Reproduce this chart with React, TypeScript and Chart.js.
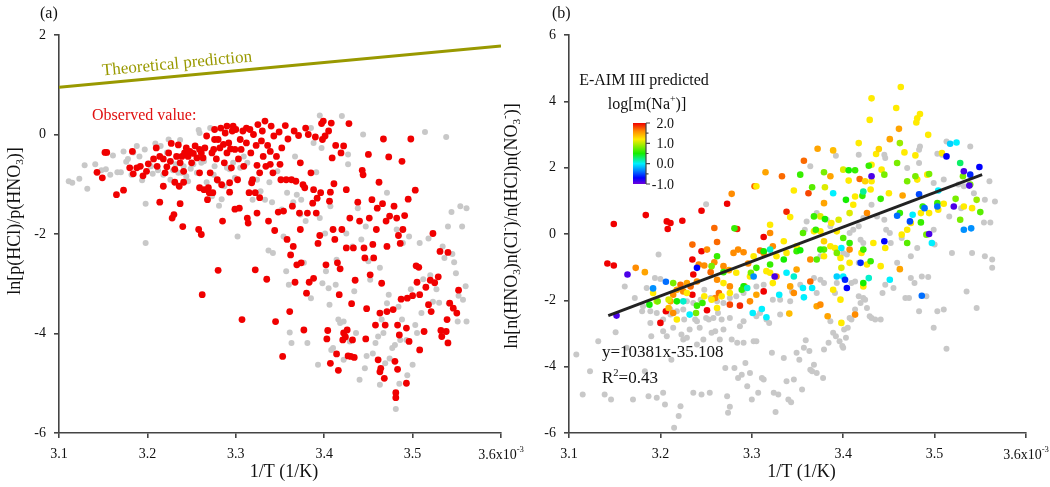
import React, { useEffect, useRef } from "react";
import { Chart, registerables } from "chart.js";
Chart.register(...registerables);

// ---------- data ----------
const xTicks = [3.1, 3.2, 3.3, 3.4, 3.5, 3.6];
const yTicksA = [2, 0, -2, -4, -6];
const yTicksB = [6, 4, 2, 0, -2, -4, -6];
const colourbarTicks = [2.0, 1.0, 0.0, -1.0];
const colourbarMinor = [1.5, 0.5, -0.5];
const theoryLine = [[3.1, 0.95], [3.6, 1.78]];
const fitLine = [[3.143, -2.46], [3.552, 1.79]];

const redA = [
  [3.143,-0.76],[3.149,-0.87],[3.152,-0.36],[3.154,-0.36],[3.165,-1.21],[3.173,-1.12],[3.18,-0.67],[3.183,-0.34],
  [3.184,-0.79],[3.188,-0.67],[3.192,-0.64],[3.195,-0.83],[3.199,-0.74],[3.201,-0.59],[3.207,-0.49],[3.21,-0.27],
  [3.211,-0.64],[3.214,-0.44],[3.214,-1.36],[3.218,-0.49],[3.218,-1.04],[3.22,-0.77],[3.222,-0.65],[3.224,-0.37],
  [3.226,-0.54],[3.227,-0.18],[3.228,-1.68],[3.23,-1.61],[3.231,-0.96],[3.231,-0.7],[3.233,-0.44],[3.235,-0.21],
  [3.236,-1.04],[3.237,-1.39],[3.237,-0.57],[3.239,-0.44],[3.24,-1.85],[3.241,-0.96],[3.241,-0.74],[3.242,-0.37],
  [3.244,-0.27],[3.246,-0.44],[3.248,-0.34],[3.25,-0.57],[3.252,-0.38],[3.254,-0.23],[3.256,-0.47],[3.258,-1.91],
  [3.259,-0.3],[3.259,-0.77],[3.259,-1.07],[3.261,-0.37],[3.261,-2.01],[3.262,-3.22],[3.263,-0.47],[3.264,-1.11],
  [3.265,-0.27],[3.267,-0.03],[3.268,-1.31],[3.269,-1.07],[3.27,-1.17],[3.271,-0.77],[3.273,-0.37],[3.274,-1.17],
  [3.275,-0.3],[3.276,0.1],[3.276,-0.1],[3.278,-0.49],[3.279,-0.91],[3.28,-0.1],[3.28,-2.73],[3.282,-0.27],
  [3.283,0.13],[3.284,-1.01],[3.285,-1.74],[3.286,-0.2],[3.287,-0.57],[3.288,0.03],[3.29,0.17],[3.29,-0.37],
  [3.292,-0.17],[3.293,-0.97],[3.293,-1.16],[3.294,-0.29],[3.295,-0.67],[3.296,0.07],[3.297,0.17],[3.299,-1.5],
  [3.299,-0.3],[3.3,0.1],[3.302,-0.91],[3.303,-0.49],[3.304,-1.48],[3.305,-0.1],[3.306,-0.3],[3.307,-3.72],
  [3.308,0.07],[3.309,-0.64],[3.312,0.13],[3.312,-0.17],[3.313,-1.68],[3.314,-1.78],[3.315,-1.17],[3.316,0.1],
  [3.317,-0.37],[3.318,-0.97],[3.319,-0.91],[3.32,0.0],[3.322,-2.72],[3.322,-1.17],[3.323,-0.22],[3.324,-1.58],
  [3.324,-0.62],[3.325,0.2],[3.327,-0.77],[3.327,-1.27],[3.329,-0.13],[3.33,0.07],[3.331,-0.44],[3.333,0.27],
  [3.334,-0.64],[3.335,-2.91],[3.336,-0.22],[3.337,-1.74],[3.339,-0.34],[3.339,-0.6],[3.34,0.17],[3.342,-0.77],
  [3.343,-0.03],[3.344,-1.93],[3.345,-3.76],[3.346,-0.44],[3.348,-1.56],[3.349,0.05],[3.35,-0.6],[3.351,-0.91],
  [3.352,-0.27],[3.353,-4.46],[3.354,-1.54],[3.356,0.18],[3.357,-0.91],[3.358,-2.11],[3.359,-0.09],[3.361,-3.56],
  [3.362,-2.42],[3.363,-0.91],[3.364,-1.44],[3.365,-2.25],[3.366,0.07],[3.367,-2.97],[3.368,-0.94],[3.369,-2.62],
  [3.371,-0.02],[3.372,-1.58],[3.373,-0.57],[3.373,-1.91],[3.374,-2.58],[3.376,-1.01],[3.377,-3.93],[3.378,-1.07],
  [3.379,0.13],[3.38,-3.19],[3.381,-1.58],[3.382,0.0],[3.383,-2.97],[3.385,-0.77],[3.387,-1.38],[3.388,-1.11],
  [3.388,-2.89],[3.39,-0.05],[3.391,-1.58],[3.392,-1.28],[3.393,-2.19],[3.395,-2.03],[3.396,-1.17],[3.397,0.22],
  [3.398,-0.1],[3.399,0.27],[3.401,-0.03],[3.402,-2.62],[3.403,-4.11],[3.404,-3.94],[3.405,0.07],[3.406,-1.34],
  [3.407,-4.6],[3.407,-1.16],[3.408,0.23],[3.409,-0.47],[3.41,-1.91],[3.411,-0.99],[3.412,-2.11],[3.413,-0.22],
  [3.414,-4.41],[3.415,-2.58],[3.416,-4.74],[3.417,-3.22],[3.418,-2.7],[3.419,-0.37],[3.42,-1.91],[3.421,-4.13],
  [3.422,-3.99],[3.422,-0.23],[3.424,-4.07],[3.425,-1.11],[3.425,-2.28],[3.426,-3.93],[3.427,-4.45],[3.428,0.22],
  [3.429,-1.68],[3.43,-4.46],[3.431,-3.4],[3.432,-4.13],[3.433,-2.28],[3.434,-4.48],[3.435,-2.93],[3.438,-1.36],
  [3.44,-1.74],[3.443,-0.72],[3.444,-0.81],[3.445,-2.28],[3.446,-2.48],[3.447,-4.11],[3.448,-3.5],[3.45,-0.4],
  [3.451,-1.68],[3.452,-2.82],[3.454,-1.31],[3.455,-2.21],[3.456,-2.48],[3.458,-3.83],[3.459,-1.91],[3.46,-1.48],
  [3.461,-4.53],[3.462,-0.96],[3.463,-4.77],[3.463,-3.59],[3.464,-4.7],[3.465,-2.99],[3.466,-1.39],[3.467,-0.09],
  [3.468,-4.9],[3.469,-3.83],[3.47,-1.74],[3.471,-3.56],[3.471,-2.25],[3.473,-0.45],[3.474,-1.64],[3.478,-3.52],
  [3.479,-1.44],[3.48,-4.56],[3.481,-5.19],[3.481,-5.29],[3.482,-1.68],[3.483,-3.83],[3.483,-4.72],[3.484,-2.03],
  [3.485,-4.03],[3.486,-2.19],[3.487,-3.31],[3.488,-0.54],[3.489,-1.91],[3.491,-1.63],[3.493,-3.89],[3.493,-5.0],
  [3.494,-3.29],[3.495,-1.3],[3.496,-4.16],[3.498,-0.09],[3.5,-3.24],[3.503,-1.12],[3.504,-2.64],[3.505,-2.97],
  [3.507,-2.67],[3.508,-3.22],[3.508,-4.33],[3.513,-3.96],[3.515,-3.07],[3.518,-3.42],[3.52,-2.93],[3.521,-3.56],
  [3.523,-1.99],[3.525,-2.98],[3.529,-2.86],[3.531,-2.35],[3.532,-3.94],[3.533,-4.06],[3.538,-3.96],[3.539,-3.72],
  [3.54,-2.37],[3.54,-4.19],[3.542,-3.39],[3.546,-3.49],[3.55,-3.59],[3.552,-3.13]
];

const greyA = [
  [3.111,-0.94],[3.115,-0.97],[3.123,-0.89],[3.129,-0.62],[3.132,-1.09],[3.141,-0.6],[3.148,-0.72],[3.153,-0.7],
  [3.158,-0.81],[3.161,-0.42],[3.166,-0.76],[3.17,-0.76],[3.173,-0.34],[3.176,-0.55],[3.178,-0.49],[3.182,-0.81],
  [3.184,-0.36],[3.188,-0.23],[3.191,-0.44],[3.194,-0.92],[3.197,-0.3],[3.198,-1.39],[3.198,-2.18],[3.204,-0.64],
  [3.206,-0.79],[3.209,-0.18],[3.212,-0.72],[3.215,-0.23],[3.218,-0.81],[3.222,-0.36],[3.224,-0.1],[3.226,-0.91],
  [3.229,-0.72],[3.232,-0.6],[3.235,-0.77],[3.237,-0.11],[3.239,-0.77],[3.241,-0.64],[3.244,-0.84],[3.246,-0.94],
  [3.249,-0.69],[3.252,-0.6],[3.256,-0.77],[3.258,0.09],[3.259,0.03],[3.261,-0.57],[3.264,-0.54],[3.267,-0.96],
  [3.271,0.13],[3.273,-1.24],[3.275,-0.81],[3.276,-0.64],[3.28,-0.94],[3.281,-1.43],[3.284,-1.3],[3.287,-1.04],
  [3.29,-0.67],[3.293,-0.7],[3.297,-0.57],[3.299,-0.87],[3.302,-2.05],[3.305,-0.67],[3.309,-0.44],[3.313,-0.57],
  [3.317,-0.97],[3.319,-1.31],[3.324,-0.91],[3.328,-1.14],[3.333,-1.31],[3.338,-0.96],[3.341,-1.36],[3.337,-2.33],
  [3.342,-2.38],[3.347,-0.74],[3.352,-1.51],[3.354,-2.05],[3.357,-2.75],[3.358,-1.17],[3.36,-3.02],[3.361,-3.98],
  [3.363,-4.19],[3.365,-1.36],[3.367,-0.44],[3.369,-1.21],[3.373,-1.61],[3.374,-1.31],[3.377,-2.58],[3.379,-1.74],
  [3.381,-4.19],[3.385,-3.29],[3.385,0.13],[3.388,-0.17],[3.391,-0.76],[3.393,-4.63],[3.395,-1.68],[3.395,0.38],
  [3.397,-0.27],[3.398,-2.99],[3.401,-1.99],[3.402,-2.75],[3.405,-3.09],[3.406,-3.42],[3.407,-1.44],[3.408,-4.33],
  [3.41,-4.29],[3.413,-3.02],[3.414,-2.52],[3.416,-3.72],[3.418,-3.79],[3.42,0.37],[3.422,-4.53],[3.422,-3.76],
  [3.425,-1.99],[3.427,-0.4],[3.427,-0.6],[3.429,-4.16],[3.432,-2.25],[3.434,-3.15],[3.436,-3.99],[3.438,-1.48],
  [3.44,-4.93],[3.442,-2.11],[3.444,0.0],[3.446,-4.7],[3.447,-1.85],[3.448,-4.45],[3.45,-2.55],[3.452,-2.92],
  [3.455,-4.4],[3.458,-4.19],[3.461,-4.06],[3.463,-5.03],[3.463,-2.68],[3.465,-3.72],[3.467,-3.99],[3.469,-4.6],
  [3.471,-1.17],[3.471,-3.39],[3.473,-3.22],[3.474,-4.5],[3.477,-4.29],[3.48,-4.23],[3.481,-5.52],[3.482,-1.91],
  [3.484,-3.46],[3.485,-5.01],[3.486,-4.13],[3.488,-3.72],[3.489,-2.18],[3.493,-4.13],[3.494,-4.84],[3.496,-2.05],
  [3.498,-3.11],[3.5,-4.63],[3.503,-3.83],[3.505,-3.99],[3.508,-2.18],[3.51,-3.59],[3.512,-2.91],[3.514,0.05],
  [3.518,-2.09],[3.52,-2.83],[3.523,-3.36],[3.527,-3.11],[3.53,-3.38],[3.534,-2.25],[3.536,-2.48],[3.538,-0.05],
  [3.54,-1.85],[3.541,-3.39],[3.544,-1.56],[3.545,-2.4],[3.547,-2.57],[3.549,-2.79],[3.552,-3.24],[3.551,-3.76],
  [3.554,-1.44],[3.556,-1.85],[3.557,-3.32],[3.56,-3.05],[3.561,-3.76],[3.561,-1.48]
];

// [1/T (x10^-3), ln ratio, E-AIM log m(Na+)]
const colouredB = [
  [3.142,-0.89,2.0],[3.149,-0.95,2.0],[3.149,0.3,2.0],[3.184,0.57,2.0],[3.207,0.38,2.0],[3.208,0.15,2.0],[3.211,0.33,2.0],
  [3.224,0.4,2.0],[3.245,0.7,2.0],[3.273,0.91,2.0],[3.284,0.15,1.9],[3.313,-0.09,2.0],[3.338,0.67,1.9],[3.362,1.23,1.8],
  [3.235,-0.77,2.0],[3.236,-1.22,2.0],[3.245,-0.52,2.0],[3.206,-2.33,2.0],[3.2,-2.68,2.0],[3.235,-1.83,2.0],[3.251,-2.3,2.0],
  [3.313,-1.73,2.0],[3.287,-2.16,1.9],[3.276,-2.13,1.8],
  [3.173,-1.02,1.6],[3.183,-1.15,1.5],[3.235,-0.32,1.7],[3.259,0.18,1.7],[3.262,-0.24,1.7],[3.278,1.21,1.6],[3.303,1.44,1.7],
  [3.315,1.86,1.5],[3.333,1.74,1.7],[3.357,2.21,1.7],[3.372,2.57,1.5],[3.389,2.52,1.4],[3.386,1.74,1.5],[3.379,0.93,1.5],
  [3.451,2.86,1.5],[3.461,3.17,1.5],[3.418,1.66,1.7],[3.413,-2.43,1.6],[3.407,-0.47,1.6],[3.426,0.63,1.6],[3.462,-1.06,1.5],
  [3.465,1.16,1.5],[3.323,-0.37,1.6],[3.32,0.03,1.6],[3.313,-0.57,1.6],[3.309,-0.5,1.7],[3.296,-0.89,1.6],[3.291,-0.55,1.6],
  [3.285,-0.47,1.6],[3.28,-0.57,1.6],[3.275,-1.09,1.5],[3.269,-0.97,1.6],[3.262,-1.38,1.6],[3.259,-0.85,1.6],[3.255,-1.15,1.7],
  [3.251,-0.47,1.6],[3.248,-0.95,1.6],[3.242,-0.92,1.6],[3.24,-1.43,1.6],[3.233,-1.58,1.7],[3.229,-1.48,1.5],[3.225,-1.73,1.6],
  [3.222,-1.53,1.7],[3.218,-1.68,1.5],[3.214,-1.83,1.6],[3.211,-2.03,1.5],[3.209,-2.23,1.4],[3.214,-2.38,1.6],[3.26,-1.93,1.6],
  [3.264,-1.78,1.7],[3.276,-1.58,1.6],[3.292,-1.58,1.5],[3.298,-2.03,1.6],[3.305,-1.83,1.5],[3.327,-1.28,1.6],[3.342,-1.58,1.5],
  [3.346,-1.78,1.6],[3.349,-1.07,1.5],[3.364,-1.43,1.7],[3.371,-2.18,1.5],[3.375,-2.13,1.6],[3.364,-0.77,1.6],[3.341,-2.4,1.4],
  [3.383,-2.48,1.5],
  [3.305,1.44,1.2],[3.346,1.31,1.2],[3.32,0.28,1.2],[3.342,0.51,1.2],[3.38,1.41,1.1],[3.417,2.74,1.2],[3.429,3.44,1.2],
  [3.431,4.09,1.2],[3.458,3.8,1.2],[3.463,4.43,1.2],[3.481,3.49,1.2],[3.484,3.62,1.2],[3.48,3.36,1.2],[3.493,2.99,1.2],
  [3.479,2.37,1.2],[3.436,2.41,1.2],[3.439,2.56,1.3],[3.442,1.94,1.2],[3.467,2.46,1.2],[3.508,2.44,1.2],[3.43,1.34,1.2],
  [3.431,1.59,1.2],[3.424,1.59,1.3],[3.406,1.61,1.2],[3.4,1.94,1.1],[3.393,0.08,1.2],[3.395,0.43,1.1],[3.387,0.33,1.2],
  [3.375,0.53,1.1],[3.375,0.08,1.2],[3.368,0.08,1.2],[3.379,-0.22,1.3],[3.386,-0.37,1.2],[3.391,-0.42,1.2],[3.397,-0.72,1.2],
  [3.398,-1.02,1.1],[3.407,-0.87,1.2],[3.42,-0.57,1.2],[3.426,-0.92,1.2],[3.433,-0.27,1.2],[3.441,-0.97,1.2],[3.446,-0.42,1.2],
  [3.464,-0.02,1.2],[3.47,0.13,1.2],[3.474,0.33,1.2],[3.485,0.63,1.2],[3.494,0.63,1.2],[3.504,0.73,1.2],[3.51,0.91,1.2],
  [3.532,0.83,1.2],[3.541,0.78,1.2],[3.492,1.79,1.2],[3.481,1.64,1.2],[3.431,2.09,1.2],[3.45,1.23,1.2],[3.413,1.13,1.2],
  [3.411,0.88,1.2],[3.397,-1.98,1.2],[3.398,-2.68,1.2],[3.389,-1.68,1.2],[3.379,-0.67,1.2],[3.349,-0.37,1.2],[3.338,-0.57,1.2],
  [3.335,-0.22,1.2],[3.327,-0.67,1.2],[3.32,-1.17,1.2],[3.323,-1.48,1.2],[3.316,-1.12,1.2],[3.298,-1.28,1.2],[3.283,-1.17,1.2],
  [3.276,-1.78,1.2],[3.269,-1.48,1.2],[3.267,-1.88,1.2],[3.262,-2.23,1.2],[3.256,-1.98,1.2],[3.248,-1.88,1.2],[3.229,-1.78,1.2],
  [3.218,-2.58,1.2],[3.209,-1.98,1.1],[3.196,-2.03,1.1],[3.192,-1.78,1.2],[3.302,-0.67,1.2],[3.422,-1.58,1.2],[3.407,0.63,1.1],
  [3.353,1.79,0.6],[3.366,1.41,0.7],[3.368,0.53,0.6],[3.38,0.45,0.5],[3.379,1.86,0.8],[3.406,1.92,0.5],[3.413,1.92,0.6],
  [3.403,1.03,0.5],[3.421,1.15,0.6],[3.428,2.06,0.6],[3.441,1.06,0.6],[3.445,1.79,0.8],[3.459,2.14,0.8],[3.462,2.74,0.9],
  [3.47,1.59,0.8],[3.479,1.74,0.8],[3.494,1.81,0.8],[3.487,0.83,0.6],[3.485,0.35,0.6],[3.491,-0.02,0.8],[3.47,-0.27,0.7],
  [3.462,0.63,0.6],[3.523,1.06,0.8],[3.528,0.43,0.8],[3.531,1.74,0.8],[3.539,1.49,0.8],[3.546,1.03,0.9],[3.55,0.66,0.7],
  [3.503,0.93,0.6],[3.422,-0.47,0.6],[3.43,-0.82,0.6],[3.422,-1.48,0.5],[3.407,-0.27,0.6],[3.4,-0.12,0.7],[3.393,-0.57,0.8],
  [3.379,-0.47,0.7],[3.37,0.13,0.6],[3.356,0.03,0.7],[3.349,-0.52,0.6],[3.353,-0.49,0.5],[3.335,-0.77,0.5],[3.32,-0.92,0.6],
  [3.313,-0.52,0.5],[3.305,-1.02,0.6],[3.299,-1.17,0.8],[3.291,-1.58,0.5],[3.289,-1.68,0.6],[3.269,-1.15,0.6],[3.262,-0.67,0.6],
  [3.256,-0.97,0.8],[3.246,-2.08,0.6],[3.24,-2.16,0.6],[3.218,-2.03,0.5],[3.214,-1.48,0.8],[3.197,-2.03,0.8],[3.188,-2.13,0.5],
  [3.239,-2.38,0.8],[3.281,0.17,0.6],[3.371,-0.77,0.7],[3.375,-0.47,0.6],
  [3.389,1.23,0.0],[3.422,1.28,0.2],[3.476,0.58,0.0],[3.504,1.31,0.0],[3.524,2.76,0.0],[3.517,2.72,-0.1],[3.528,2.14,0.3],
  [3.497,-0.27,0.0],[3.451,-1.38,0.0],[3.428,-1.33,0.1],[3.398,-0.42,0.0],[3.4,-1.28,0.0],[3.393,-1.28,-0.1],[3.356,-1.63,0.0],
  [3.366,-1.63,0.0],[3.357,-1.91,0.0],[3.346,-1.28,0.1],[3.338,-1.17,0.0],[3.33,-1.83,0.0],[3.32,-0.47,0.1],[3.311,-2.26,0.0],
  [3.301,-2.38,0.0],[3.316,-2.51,0.0],[3.225,-2.03,0.1],[3.232,-2.43,0.0],[3.295,-1.63,0.1],[3.532,0.13,-0.3],[3.54,0.17,-0.3],
  [3.513,2.34,-0.7],[3.549,2.02,-0.7],[3.539,1.79,-0.6],[3.483,1.2,-0.5],[3.489,0.78,-0.4],[3.459,0.55,-0.4],[3.503,0.83,-0.4],
  [3.445,-0.22,-0.7],[3.419,-0.87,-0.6],[3.402,-1.38,-0.6],[3.404,-1.63,-0.7],[3.486,-1.86,-0.4],[3.473,0.38,-0.5],[3.24,-1.02,-0.7],
  [3.206,-1.44,-0.4],[3.192,-1.64,-0.3],[3.302,-1.28,-0.3],
  [3.164,-1.22,-0.9],[3.152,-2.46,-0.9],[3.325,-1.28,-0.9],[3.431,1.74,-0.9],[3.494,0.0,-0.9],[3.521,0.83,-0.9],[3.532,1.89,-0.9],
  [3.538,1.46,-0.9]
];

const greyB = [
  [3.108,-3.63],[3.115,-4.84],[3.123,-4.14],[3.132,-3.23],[3.139,-4.84],[3.146,-4.99],[3.151,-2.96],[3.161,-1.58],
  [3.163,-3.43],[3.17,-4.99],[3.172,-1.93],[3.18,-2.33],[3.183,-4.14],[3.185,-1.63],[3.187,-4.89],[3.189,-2.68],
  [3.19,-3.08],[3.194,-1.33],[3.196,-4.94],[3.198,-0.62],[3.2,-1.36],[3.203,-4.79],[3.203,-2.93],[3.205,-5.14],
  [3.207,-3.08],[3.211,-2.28],[3.212,-3.79],[3.214,-2.83],[3.22,-5.49],[3.222,-5.19],[3.215,-5.84],[3.223,-3.03],
  [3.225,-3.18],[3.226,-2.58],[3.229,-3.13],[3.232,-2.88],[3.236,-4.79],[3.238,-2.58],[3.24,-3.33],[3.243,-2.83],
  [3.245,-4.84],[3.247,-3.18],[3.25,0.9],[3.253,-2.58],[3.254,-4.79],[3.256,-2.98],[3.258,-2.53],[3.26,-2.93],
  [3.263,-2.38],[3.265,-3.18],[3.267,-2.58],[3.269,-2.88],[3.271,-4.04],[3.273,-4.89],[3.274,-5.39],[3.276,-5.21],
  [3.278,-3.18],[3.281,-4.04],[3.284,-3.28],[3.285,-4.34],[3.287,-2.78],[3.289,-4.24],[3.291,-3.28],[3.293,-3.89],
  [3.295,-4.59],[3.298,-4.19],[3.3,-4.99],[3.302,-3.23],[3.305,-3.23],[3.307,-4.79],[3.309,-2.38],[3.311,-4.34],
  [3.313,-4.39],[3.316,-2.58],[3.319,-2.68],[3.322,-3.58],[3.324,-4.79],[3.326,-5.37],[3.329,-4.84],[3.331,-2.43],
  [3.335,-3.74],[3.338,-4.44],[3.34,-4.99],[3.343,-5.07],[3.346,-4.39],[3.349,-3.58],[3.352,-3.79],[3.355,-4.69],
  [3.357,-3.43],[3.359,-3.2],[3.363,-3.53],[3.364,-4.09],[3.366,-4.14],[3.368,-3.94],[3.371,-4.19],[3.378,-4.34],
  [3.379,-3.48],[3.384,-3.28],[3.386,-2.63],[3.389,-2.98],[3.392,-3.08],[3.396,-3.23],[3.399,-3.38],[3.4,-3.43],
  [3.401,-2.88],[3.403,-3.13],[3.405,-2.83],[3.407,-2.53],[3.409,-2.58],[3.413,-2.28],[3.417,-1.88],[3.419,-2.08],
  [3.422,-1.93],[3.424,-1.98],[3.426,-2.23],[3.429,-2.48],[3.431,-2.53],[3.435,-2.58],[3.441,-2.58],[3.443,-1.78],
  [3.446,-1.53],[3.455,-1.63],[3.459,-0.87],[3.468,-1.93],[3.472,-1.93],[3.474,-1.33],[3.478,-1.48],[3.483,-2.33],
  [3.486,-1.28],[3.491,-1.88],[3.493,-1.3],[3.499,-2.83],[3.503,-2.33],[3.51,-2.28],[3.513,-3.46],[3.519,-0.57],
  [3.535,-1.73],[3.541,-0.57],[3.546,-2.23],[3.555,-0.67],[3.563,-1.02],[3.563,-0.77],[3.554,0.35],[3.561,0.35],
  [3.56,1.59],[3.566,0.98],[3.555,1.03],[3.539,2.64],[3.513,2.79],[3.508,2.39],[3.503,2.42],[3.483,2.54],
  [3.483,2.14],[3.47,1.99],[3.446,2.29],[3.445,2.39],[3.417,2.39],[3.392,2.36],[3.364,2.04],[3.484,2.64],
  [3.487,0.83],[3.51,1.64],[3.499,1.54],[3.526,1.49],[3.532,1.44],[3.543,1.23],[3.529,0.78],[3.516,0.53],
  [3.499,0.13],[3.5,-0.32],[3.481,-0.42],[3.474,-0.67],[3.464,-0.12],[3.452,-0.27],[3.451,0.03],[3.447,0.13],
  [3.445,0.43],[3.437,0.53],[3.431,0.88],[3.422,0.48],[3.417,0.23],[3.411,0.13],[3.419,-0.17],[3.422,-0.27],
  [3.407,0.03],[3.4,-0.57],[3.404,-0.62],[3.413,-1.43],[3.417,-0.87],[3.409,-1.48],[3.393,-1.48],[3.391,-1.78],
  [3.386,0.23],[3.382,0.43],[3.371,0.63],[3.36,0.38],[3.358,0.13],[3.375,-0.67],[3.375,-1.38],[3.379,-1.48],
  [3.368,-1.33],[3.353,-1.53],[3.371,-1.78],[3.344,-1.73],[3.331,-1.98],[3.342,-2.03],[3.323,-1.98],[3.313,-1.53],
  [3.305,-1.58],[3.291,-1.78],[3.283,-1.88],[3.276,-1.93],[3.269,-2.08],[3.262,-2.03],[3.255,-1.93],[3.248,-1.68],
  [3.244,-1.98],[3.236,-2.08],[3.229,-2.03],[3.225,-2.28],[3.218,-2.33],[3.211,-2.43],[3.203,-2.58],[3.196,-2.38],
  [3.189,-2.33],[3.181,-2.18],[3.24,-2.63],[3.25,-2.53],[3.276,-2.53],[3.291,-2.63],[3.305,-2.48]
];

// ---------- styling helpers ----------
const FONT = "'Liberation Serif', 'Times New Roman', serif";
const AXIS = "#444";
const TXT = "#111";

const cmapStops: [number, number[]][] = [
  [-1.0, [112, 0, 220]], [-0.7, [0, 0, 255]], [-0.35, [0, 128, 255]], [0.0, [0, 240, 255]],
  [0.5, [20, 238, 0]], [1.2, [255, 235, 0]], [1.6, [255, 140, 0]], [2.0, [240, 0, 0]]
];
function cmap(v: number): string {
  if (v <= cmapStops[0][0]) return `rgb(${cmapStops[0][1].join(",")})`;
  for (let i = 1; i < cmapStops.length; i++) {
    const [v1, c1] = cmapStops[i];
    const [v0, c0] = cmapStops[i - 1];
    if (v <= v1) {
      const t = (v - v0) / (v1 - v0);
      const c = c0.map((a, k) => Math.round(a + (c1[k] - a) * t));
      return `rgb(${c.join(",")})`;
    }
  }
  return `rgb(${cmapStops[cmapStops.length - 1][1].join(",")})`;
}

type Seg = [string, number]; // 0 normal, 1 superscript, -1 subscript
function drawRich(ctx: CanvasRenderingContext2D, segs: Seg[], x: number, y: number, size: number,
  color: string, rot = 0, align: "center" | "left" | "right" = "center") {
  ctx.save();
  ctx.translate(x, y);
  ctx.rotate(rot);
  ctx.fillStyle = color;
  ctx.textBaseline = "middle";
  ctx.textAlign = "left";
  const fs = (m: number) => (m ? size * 0.62 : size);
  const widths = segs.map(([t, m]) => { ctx.font = `${fs(m)}px ${FONT}`; return ctx.measureText(t).width; });
  const total = widths.reduce((a, b) => a + b, 0);
  let cx = align === "center" ? -total / 2 : align === "right" ? -total : 0;
  segs.forEach(([t, m], i) => {
    ctx.font = `${fs(m)}px ${FONT}`;
    ctx.fillText(t, cx, m === 1 ? -size * 0.36 : m === -1 ? size * 0.3 : 0);
    cx += widths[i];
  });
  ctx.restore();
}

function scales(yTicks: number[], yMin: number, yMax: number, yWidth: number) {
  const grid = { drawOnChartArea: false, drawTicks: true, tickLength: 5, color: AXIS, lineWidth: 1.6 };
  const border = { display: true, color: AXIS, width: 1.6 };
  return {
    x: {
      type: "linear", min: 3.1, max: 3.6,
      afterBuildTicks: (s: any) => { s.ticks = xTicks.map((v) => ({ value: v })); },
      afterFit: (s: any) => { s.height = 54; },
      ticks: {
        autoSkip: false, maxRotation: 0, padding: 8, color: TXT,
        font: { family: FONT, size: 14 },
        callback: (v: any) => (Number(v) === 3.6 ? "" : Number(v).toFixed(1)),
      },
      grid, border,
    },
    y: {
      type: "linear", min: yMin, max: yMax,
      afterBuildTicks: (s: any) => { s.ticks = yTicks.map((v) => ({ value: v })); },
      afterFit: (s: any) => { s.width = yWidth; },
      ticks: { autoSkip: false, padding: 8, color: TXT, font: { family: FONT, size: 14 }, callback: (v: any) => String(v) },
      grid, border,
    },
  };
}

const pts = (a: number[][]) => a.map((p) => ({ x: p[0], y: p[1] }));

export default function App() {
  const refA = useRef<HTMLCanvasElement>(null);
  const refB = useRef<HTMLCanvasElement>(null);

  useEffect(() => {
    const exp36 = (chart: any) => {
      const ctx = chart.ctx as CanvasRenderingContext2D;
      const xp = chart.scales.x.getPixelForValue(3.6);
      drawRich(ctx, [["3.6x10", 0], ["-3", 1]], xp, 455, 14, TXT);
      drawRich(ctx, [["1/T (1/K)", 0]], (chart.chartArea.left + chart.chartArea.right) / 2 + 4, 472, 18, TXT);
    };

    const chartA = new Chart(refA.current!, {
      type: "scatter",
      data: {
        datasets: [
          { data: pts(theoryLine), showLine: true, borderColor: "#999900", borderWidth: 3, pointRadius: 0, order: 0 } as any,
          { data: pts(redA), backgroundColor: "#f00000", borderWidth: 0, pointRadius: 3.4, order: 1 },
          { data: pts(greyA), backgroundColor: "#c8c8c8", borderWidth: 0, pointRadius: 3, order: 2 },
        ],
      },
      options: {
        responsive: false, animation: false, events: [],
        layout: { padding: { left: 0, right: 549, top: 35, bottom: 0 } },
        plugins: { legend: { display: false }, tooltip: { enabled: false } },
        scales: scales(yTicksA, -6, 2, 59) as any,
      },
      plugins: [{
        id: "annA",
        afterDraw(chart: any) {
          const ctx = chart.ctx as CanvasRenderingContext2D;
          exp36(chart);
          drawRich(ctx, [["ln[p(HCl)/p(HNO", 0], ["3", -1], [")]", 0]], 15, 221, 18, TXT, -Math.PI / 2);
          drawRich(ctx, [["(a)", 0]], 40, 14, 16, TXT, 0, "left");
          drawRich(ctx, [["Observed value:", 0]], 92, 116, 16, "#e01010", 0, "left");
          drawRich(ctx, [["Theoretical prediction", 0]], 177, 64, 17, "#999900", -0.094);
        },
      }],
    });

    const chartB = new Chart(refB.current!, {
      type: "scatter",
      data: {
        datasets: [
          { data: pts(fitLine), showLine: true, borderColor: "#222", borderWidth: 3, pointRadius: 0, order: 0 } as any,
          { data: pts(colouredB), pointBackgroundColor: colouredB.map((p) => cmap(p[2])), backgroundColor: "#888", borderWidth: 0, pointRadius: 3.3, order: 1 },
          { data: pts(greyB), backgroundColor: "#c8c8c8", borderWidth: 0, pointRadius: 3, order: 2 },
        ],
      },
      options: {
        responsive: false, animation: false, events: [],
        layout: { padding: { left: 529, right: 24, top: 35, bottom: 0 } },
        plugins: { legend: { display: false }, tooltip: { enabled: false } },
        scales: scales(yTicksB, -6, 6, 40) as any,
      },
      plugins: [{
        id: "annB",
        afterDraw(chart: any) {
          const ctx = chart.ctx as CanvasRenderingContext2D;
          exp36(chart);
          drawRich(ctx, [["ln[n(HNO", 0], ["3", -1], [")n(Cl", 0], ["-", 1], [")/n(HCl)n(NO", 0], ["3", -1], ["-", 1], [")]", 0]], 512, 226, 18, TXT, -Math.PI / 2);
          drawRich(ctx, [["(b)", 0]], 552, 14, 16, TXT, 0, "left");
          drawRich(ctx, [["E-AIM III predicted", 0]], 644, 81, 16, TXT);
          drawRich(ctx, [["log[m(Na", 0], ["+", 1], [")]", 0]], 647, 105, 16, TXT);
          drawRich(ctx, [["y=10381x-35.108", 0]], 602, 353, 17, TXT, 0, "left");
          drawRich(ctx, [["R", 0], ["2", 1], ["=0.43", 0]], 602, 379, 17, TXT, 0, "left");
          // colour bar
          const bx = 633, bw = 13, top = 123, bot = 184;
          const vy = (v: number) => top + ((2 - v) / 3) * (bot - top);
          const g = ctx.createLinearGradient(0, top, 0, bot);
          cmapStops.forEach(([v, c]) => g.addColorStop((2 - v) / 3, `rgb(${c.join(",")})`));
          ctx.save();
          ctx.fillStyle = g;
          ctx.fillRect(bx, top, bw, bot - top);
          ctx.strokeStyle = AXIS;
          ctx.lineWidth = 1.2;
          ctx.beginPath();
          ctx.moveTo(bx + bw, top); ctx.lineTo(bx + bw, bot);
          colourbarTicks.forEach((v) => { ctx.moveTo(bx + bw, vy(v)); ctx.lineTo(bx + bw + 4, vy(v)); });
          colourbarMinor.forEach((v) => { ctx.moveTo(bx + bw, vy(v)); ctx.lineTo(bx + bw + 2.5, vy(v)); });
          ctx.stroke();
          ctx.restore();
          colourbarTicks.forEach((v) => drawRich(ctx, [[v.toFixed(1), 0]], 674, vy(v) + 1, 14, TXT, 0, "right"));
        },
      }],
    });

    return () => { chartA.destroy(); chartB.destroy(); };
  }, []);

  const cs: React.CSSProperties = { position: "absolute", left: 0, top: 0, width: 1050, height: 487 };
  return (
    <div style={{ position: "fixed", left: 0, top: 0, width: 1050, height: 487, background: "#fff" }}>
      <canvas ref={refA} width={1050} height={487} style={cs} />
      <canvas ref={refB} width={1050} height={487} style={cs} />
    </div>
  );
}
